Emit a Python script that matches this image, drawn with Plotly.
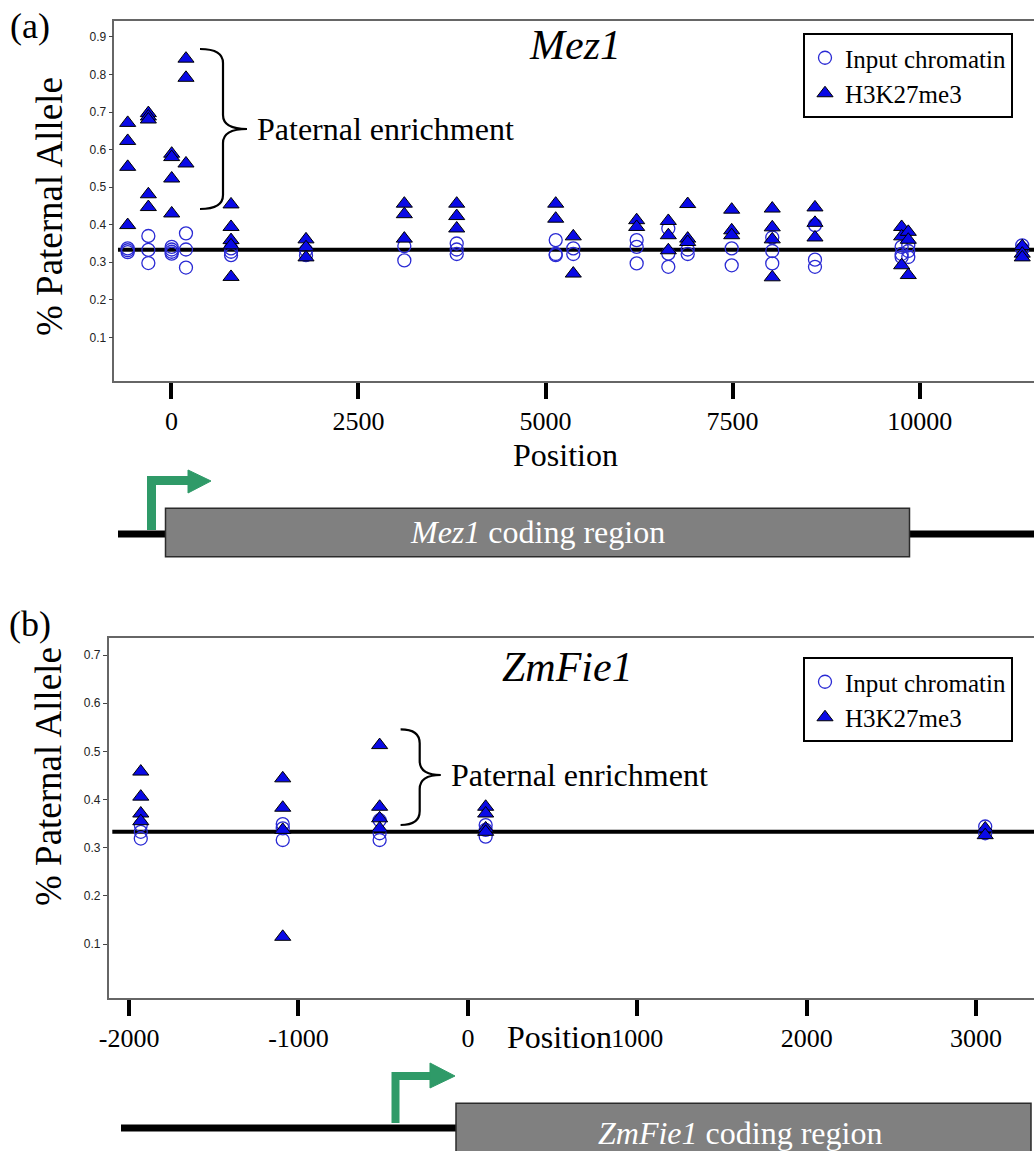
import plotly.graph_objects as go

W, H = 1034, 1151
SERIF = "Liberation Serif, Times New Roman, serif"
SANS = "Liberation Sans, Arial, sans-serif"

# ---------------- Mez1 (panel a) ----------------
mez1_sites = [-584, -308, 4, 195, 797, 1799, 3113, 3813, 5136, 5371,
              6218, 6641, 6900, 7488, 8030, 8601, 9759, 9848, 11371]
mez1_input = [
    [0.337, 0.332, 0.327],
    [0.370, 0.333, 0.298],
    [0.341, 0.334, 0.328, 0.323],
    [0.377, 0.334, 0.286],
    [0.337, 0.328, 0.319],
    [0.332, 0.319],
    [0.343, 0.305],
    [0.350, 0.334, 0.322],
    [0.359, 0.322, 0.319],
    [0.337, 0.322],
    [0.359, 0.341, 0.297],
    [0.390, 0.323, 0.288],
    [0.334, 0.322],
    [0.337, 0.292],
    [0.366, 0.330, 0.297],
    [0.399, 0.307, 0.288],
    [0.341, 0.322, 0.314],
    [0.345, 0.330, 0.314],
    [0.345, 0.335],
]
mez1_k27 = [
    [0.671, 0.623, 0.554, 0.399],
    [0.697, 0.688, 0.680, 0.481, 0.447],
    [0.589, 0.580, 0.523, 0.430],
    [0.842, 0.791, 0.563],
    [0.454, 0.394, 0.359, 0.345, 0.261],
    [0.361, 0.340, 0.313],
    [0.456, 0.428, 0.363],
    [0.456, 0.423, 0.390],
    [0.456, 0.416],
    [0.369, 0.270],
    [0.412, 0.394],
    [0.410, 0.372, 0.332],
    [0.455, 0.363, 0.354],
    [0.440, 0.385, 0.372],
    [0.443, 0.393, 0.361, 0.260],
    [0.446, 0.405, 0.366],
    [0.394, 0.369, 0.292],
    [0.381, 0.360, 0.266],
    [0.343, 0.323, 0.313],
]
mez1_xticks = [0, 2500, 5000, 7500, 10000]
mez1_xlabels = ["0", "2500", "5000", "7500", "10000"]
mez1_yticks = [0.1, 0.2, 0.3, 0.4, 0.5, 0.6, 0.7, 0.8, 0.9]

# ---------------- ZmFie1 (panel b) ----------------
fie1_sites = [-1931, -1093, -521, 105, 3054]
fie1_input = [
    [0.347, 0.333, 0.319],
    [0.349, 0.340, 0.316],
    [0.357, 0.330, 0.316],
    [0.347, 0.337, 0.323],
    [0.344, 0.330],
]
fie1_k27 = [
    [0.458, 0.406, 0.371, 0.355],
    [0.444, 0.383, 0.337, 0.115],
    [0.513, 0.385, 0.361, 0.340],
    [0.385, 0.371, 0.340, 0.333],
    [0.340, 0.326],
]
fie1_xticks = [-2000, -1000, 0, 1000, 2000, 3000]
fie1_xlabels = ["-2000", "-1000", "0", "1000", "2000", "3000"]
fie1_yticks = [0.1, 0.2, 0.3, 0.4, 0.5, 0.6, 0.7]

EXPECTED_RATIO = 1 / 3  # paternal share expected in triploid endosperm


def flatten(sites, groups):
    xs, ys = [], []
    for s, vals in zip(sites, groups):
        for v in vals:
            xs.append(s)
            ys.append(v)
    return xs, ys


def fx(p):
    return p / W


def fy(p):
    return 1 - p / H


circle_marker = dict(symbol="circle-open", size=13, color="#2a2ad4",
                     line=dict(width=1.3, color="#2a2ad4"))
tri_marker = dict(symbol="triangle-up", size=14, color="#0a0ae6",
                  line=dict(width=1, color="black"))

fig = go.Figure()
panels = [
    ("x", "y", "legend", mez1_sites, mez1_input, mez1_k27),
    ("x2", "y2", "legend2", fie1_sites, fie1_input, fie1_k27),
]
for xa, ya, lg, sites, inp, k27 in panels:
    xi, yi = flatten(sites, inp)
    xk, yk = flatten(sites, k27)
    fig.add_trace(go.Scatter(x=xi, y=yi, mode="markers", name="Input chromatin",
                             marker=circle_marker, xaxis=xa, yaxis=ya, legend=lg))
    fig.add_trace(go.Scatter(x=xk, y=yk, mode="markers", name="H3K27me3",
                             marker=tri_marker, xaxis=xa, yaxis=ya, legend=lg))


def xaxis_style(domain, rng, ticks, labels, anchor):
    return dict(domain=domain, range=rng, anchor=anchor, tickvals=ticks,
                ticktext=labels, automargin=False,
                ticks="outside", ticklen=16, tickwidth=4, tickcolor="black",
                tickfont=dict(family=SERIF, size=26, color="black"),
                showline=True, linecolor="#666", linewidth=1.5, mirror=True,
                showgrid=False, zeroline=False)


def yaxis_style(domain, rng, ticks, anchor):
    return dict(domain=domain, range=rng, anchor=anchor, tickvals=ticks,
                ticktext=[f"{t:.1f}" for t in ticks], automargin=False,
                ticks="outside", ticklen=4, tickwidth=1, tickcolor="#444",
                tickfont=dict(family=SANS, size=12, color="#222"),
                showline=True, linecolor="#666", linewidth=1.5, mirror=False,
                showgrid=False, zeroline=False)


legend_style = dict(xanchor="left", yanchor="top", bgcolor="white",
                    bordercolor="black", borderwidth=2,
                    font=dict(family=SERIF, size=25, color="black"),
                    tracegroupgap=0, itemwidth=30)

fig.update_layout(
    width=W, height=H,
    margin=dict(l=0, r=0, t=0, b=0, pad=0, autoexpand=False),
    paper_bgcolor="white", plot_bgcolor="white",
    xaxis=xaxis_style([fx(114.3), 1], [-763, 11528], mez1_xticks, mez1_xlabels, "y"),
    yaxis=yaxis_style([fy(381), fy(20.7)], [-0.016, 0.943], mez1_yticks, "x"),
    xaxis2=xaxis_style([fx(108.6), 1], [-2121, 3342], fie1_xticks, fie1_xlabels, "y2"),
    yaxis2=yaxis_style([fy(998.3), fy(637.7)], [-0.0127, 0.736], fie1_yticks, "x2"),
    legend=dict(x=fx(803), y=fy(33), **legend_style),
    legend2=dict(x=fx(803), y=fy(657), **legend_style),
)

shapes = []
annotations = []

# expected 1/3 paternal line in each panel
for ya, xd in (("y", "x domain"), ("y2", "x2 domain")):
    shapes.append(dict(type="line", xref=xd, yref=ya, x0=0.004, x1=1,
                       y0=EXPECTED_RATIO, y1=EXPECTED_RATIO,
                       line=dict(color="black", width=4), layer="below"))


def brace_path(x0, xm, xt, ytop, ymid, ybot, r=14):
    pts = [
        ("M", (x0, ytop)),
        ("Q", (xm, ytop), (xm, ytop + r)),
        ("L", (xm, ymid - r)),
        ("Q", (xm, ymid), (xt, ymid)),
        ("Q", (xm, ymid), (xm, ymid + r)),
        ("L", (xm, ybot - r)),
        ("Q", (xm, ybot), (x0, ybot)),
    ]
    out = []
    for item in pts:
        cmd = item[0]
        coords = " ".join(f"{fx(a):.5f},{fy(b):.5f}" for a, b in item[1:])
        out.append(f"{cmd} {coords}")
    return " ".join(out)


def pix_path(points, close=False):
    s = "M " + " L ".join(f"{fx(a):.5f},{fy(b):.5f}" for a, b in points)
    return s + (" Z" if close else "")


# braces + "Paternal enrichment"
for (x0, xm, xt, yt, ym, yb) in ((200, 223, 247, 49, 129, 209),
                                 (400.6, 419.7, 440.8, 729.3, 775, 825)):
    shapes.append(dict(type="path", xref="paper", yref="paper",
                       path=brace_path(x0, xm, xt, yt, ym, yb),
                       line=dict(color="black", width=2.2)))
    annotations.append(dict(text="Paternal enrichment", x=fx(xt + 8), y=fy(ym),
                            xref="paper", yref="paper", xanchor="left",
                            yanchor="middle", showarrow=False,
                            font=dict(family=SERIF, size=32, color="black")))

# gene titles
for txt, cx, cy in (("<i>Mez1</i>", 575, 45), ("<i>ZmFie1</i>", 567, 667)):
    annotations.append(dict(text=txt, x=fx(cx), y=fy(cy), xref="paper", yref="paper",
                            xanchor="center", yanchor="middle", showarrow=False,
                            font=dict(family=SERIF, size=42, color="black")))

# axis titles
for cx, cy in ((565, 455), (559, 1037)):
    annotations.append(dict(text="Position", x=fx(cx), y=fy(cy), xref="paper",
                            yref="paper", xanchor="center", yanchor="middle",
                            showarrow=False,
                            font=dict(family=SERIF, size=32, color="black")))
for cx, cy in ((49, 207), (48, 777)):
    annotations.append(dict(text="% Paternal Allele", x=fx(cx), y=fy(cy),
                            xref="paper", yref="paper", xanchor="center",
                            yanchor="middle", textangle=-90, showarrow=False,
                            font=dict(family=SERIF, size=37, color="black")))

# panel letters
for txt, cy in (("(a)", 26), ("(b)", 624)):
    annotations.append(dict(text=txt, x=fx(30), y=fy(cy), xref="paper", yref="paper",
                            xanchor="center", yanchor="middle", showarrow=False,
                            font=dict(family=SERIF, size=36, color="black")))

# gene structure diagrams
GREEN = "#2f9a68"
# Mez1
shapes.append(dict(type="line", xref="paper", yref="paper", x0=fx(118), x1=fx(1034),
                   y0=fy(534), y1=fy(534), line=dict(color="black", width=7)))
shapes.append(dict(type="rect", xref="paper", yref="paper", x0=fx(165.5), x1=fx(909.5),
                   y0=fy(508.3), y1=fy(556.7), fillcolor="#808080",
                   line=dict(color="#2b2b2b", width=1.5)))
annotations.append(dict(text="<i>Mez1</i> coding region", x=fx(537), y=fy(532),
                        xref="paper", yref="paper", xanchor="center", yanchor="middle",
                        showarrow=False, font=dict(family=SERIF, size=32, color="white")))
shapes.append(dict(type="path", xref="paper", yref="paper",
                   path=pix_path([(151.5, 530), (151.5, 480.5), (190, 480.5)]),
                   line=dict(color=GREEN, width=9)))
shapes.append(dict(type="path", xref="paper", yref="paper",
                   path=pix_path([(188, 470), (211, 481), (188, 493)], close=True),
                   fillcolor=GREEN, line=dict(color=GREEN, width=1)))
# ZmFie1
shapes.append(dict(type="line", xref="paper", yref="paper", x0=fx(121), x1=fx(456),
                   y0=fy(1128), y1=fy(1128), line=dict(color="black", width=7)))
shapes.append(dict(type="rect", xref="paper", yref="paper", x0=fx(456), x1=fx(1031),
                   y0=fy(1103.3), y1=fy(1170), fillcolor="#808080",
                   line=dict(color="#2b2b2b", width=1.5)))
annotations.append(dict(text="<i>ZmFie1</i> coding region", x=fx(740), y=fy(1133),
                        xref="paper", yref="paper", xanchor="center", yanchor="middle",
                        showarrow=False, font=dict(family=SERIF, size=32, color="white")))
shapes.append(dict(type="path", xref="paper", yref="paper",
                   path=pix_path([(395.5, 1123), (395.5, 1076), (431, 1076)]),
                   line=dict(color=GREEN, width=8)))
shapes.append(dict(type="path", xref="paper", yref="paper",
                   path=pix_path([(430, 1063), (455, 1076), (430, 1088)], close=True),
                   fillcolor=GREEN, line=dict(color=GREEN, width=1)))

fig.update_layout(shapes=shapes, annotations=annotations)

fig.write_html("out.html")
